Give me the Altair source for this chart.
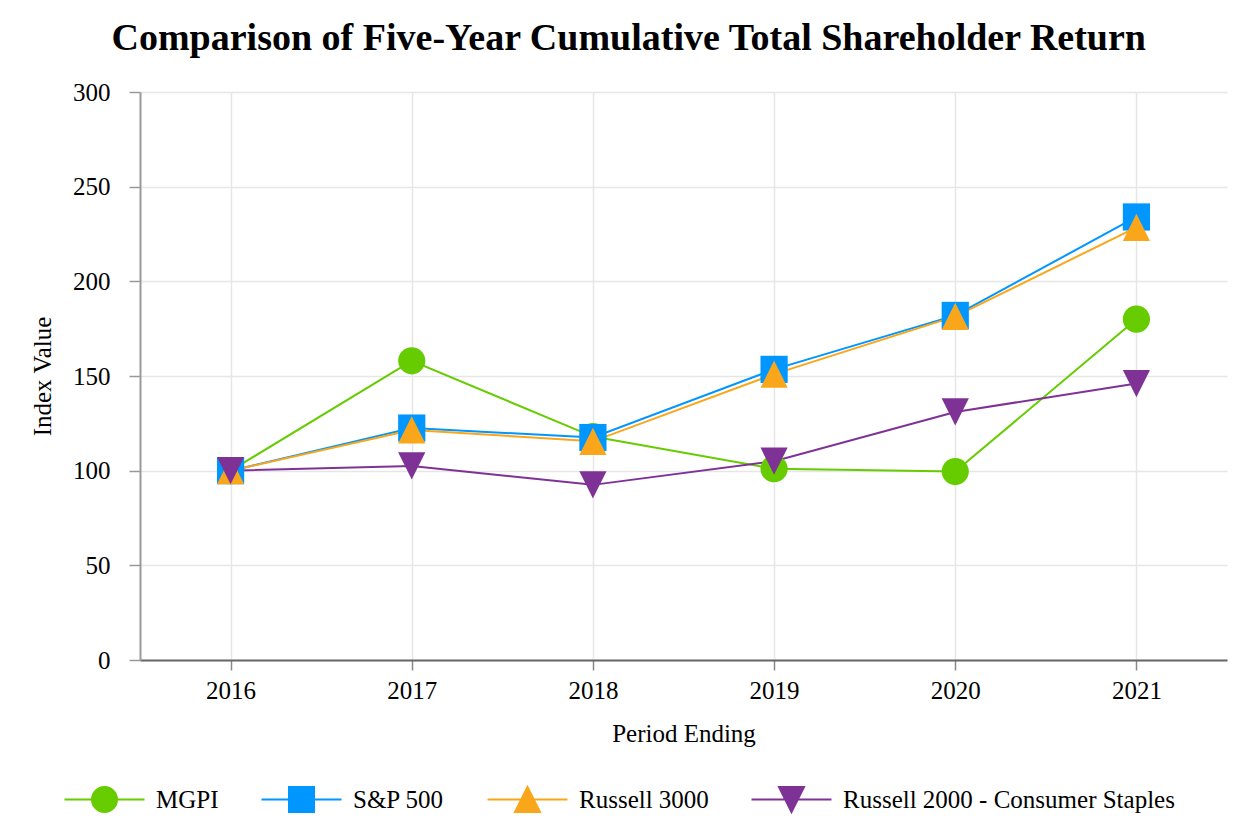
import altair as alt
import pandas as pd

years = ["2016", "2017", "2018", "2019", "2020", "2021"]
series = ["MGPI", "S&P 500", "Russell 3000", "Russell 2000 - Consumer Staples"]
mgpi = [100, 158, 118, 101, 99.5, 180]
sp500 = [100, 122.5, 117.5, 153.5, 182, 234]
russell3000 = [100, 121.5, 115.5, 151, 181.5, 228.5]
russell2000_cs = [100, 102.5, 92.5, 105, 131, 146]
y_ticks = [0, 50, 100, 150, 200, 250, 300]

colors = ["#66CC00", "#0096FF", "#FAA61A", "#7F3296"]
marker_paths = [
    "M-1,0A1,1,0,1,1,1,0A1,1,0,1,1,-1,0Z",
    "M-1,-1H1V1H-1Z",
    "M0,-1L1,1H-1Z",
    "M-1,-1H1L0,1Z",
]
legend_paths = ["M-3.2,0H3.2" + p for p in marker_paths]

rows = []
for name, vals in zip(series, [mgpi, sp500, russell3000, russell2000_cs]):
    for yr, v in zip(years, vals):
        rows.append({"series": name, "year": yr, "value": v})
df = pd.DataFrame(rows)

FONT = "Liberation Serif"

x_enc = alt.X(
    "year:O",
    scale=alt.Scale(type="point", padding=0.5),
    axis=alt.Axis(
        title="Period Ending", labelAngle=0, grid=True, gridColor="#e6e6e6", gridWidth=1.5,
        domainColor="#666666", domainWidth=2, tickColor="#888888", tickWidth=1.5, tickSize=10,
        labelPadding=8, titlePadding=18, labelFontSize=25, titleFontSize=25,
        labelFont=FONT, titleFont=FONT, labelColor="#000000", titleColor="#000000",
        titleFontWeight="normal",
    ),
)
y_enc = alt.Y(
    "value:Q",
    scale=alt.Scale(domain=[0, 300], nice=False, zero=True),
    axis=alt.Axis(
        title="Index Value", values=y_ticks, grid=True, gridColor="#e6e6e6", gridWidth=1.5,
        domainColor="#999999", domainWidth=2, tickColor="#999999", tickWidth=1.5, tickSize=11,
        labelPadding=19, titlePadding=17, labelFontSize=25, titleFontSize=25,
        labelFont=FONT, titleFont=FONT, labelColor="#000000", titleColor="#000000",
        titleFontWeight="normal",
    ),
)

base = alt.Chart(df)

line_layers = []
point_layers = []
for name, col, path in zip(series, colors, marker_paths):
    sub = base.transform_filter(alt.datum.series == name)
    line_layers.append(
        sub.mark_line(strokeWidth=2, color=col).encode(x=x_enc, y=y_enc)
    )
    point_layers.append(
        sub.mark_point(filled=True, shape=path, size=740, color=col, opacity=1)
        .encode(x=x_enc, y=y_enc)
    )

leg = alt.Legend(
    title=None, orient="none", legendX=-49, legendY=694, direction="horizontal", columns=4,
    symbolSize=625, symbolStrokeWidth=2, symbolOpacity=1, labelFontSize=25, labelFont=FONT,
    labelColor="#000000", labelOffset=38, labelLimit=0, columnPadding=38, padding=0,
)
legend_layer = (
    base.mark_point(filled=True, opacity=0)
    .encode(
        x=x_enc, y=y_enc,
        shape=alt.Shape("series:N", scale=alt.Scale(domain=series, range=legend_paths), legend=leg),
        fill=alt.Fill("series:N", scale=alt.Scale(domain=series, range=colors), legend=leg),
        stroke=alt.Stroke("series:N", scale=alt.Scale(domain=series, range=colors), legend=leg),
    )
)

chart = (
    alt.layer(*line_layers, *point_layers, legend_layer)
    .properties(
        width=1087, height=568,
        title=alt.TitleParams(
            "Comparison of Five-Year Cumulative Total Shareholder Return",
            font=FONT, fontSize=38, fontWeight="bold", color="#000000",
            anchor="middle", frame="bounds", offset=22,
        ),
        autosize=alt.AutoSizeParams(type="none"),
        padding={"left": 132, "top": 84, "right": 13, "bottom": 168},
    )
    .configure_view(stroke=None)
)

chart.save("out.html", embed_options={"renderer": "svg", "actions": False})
